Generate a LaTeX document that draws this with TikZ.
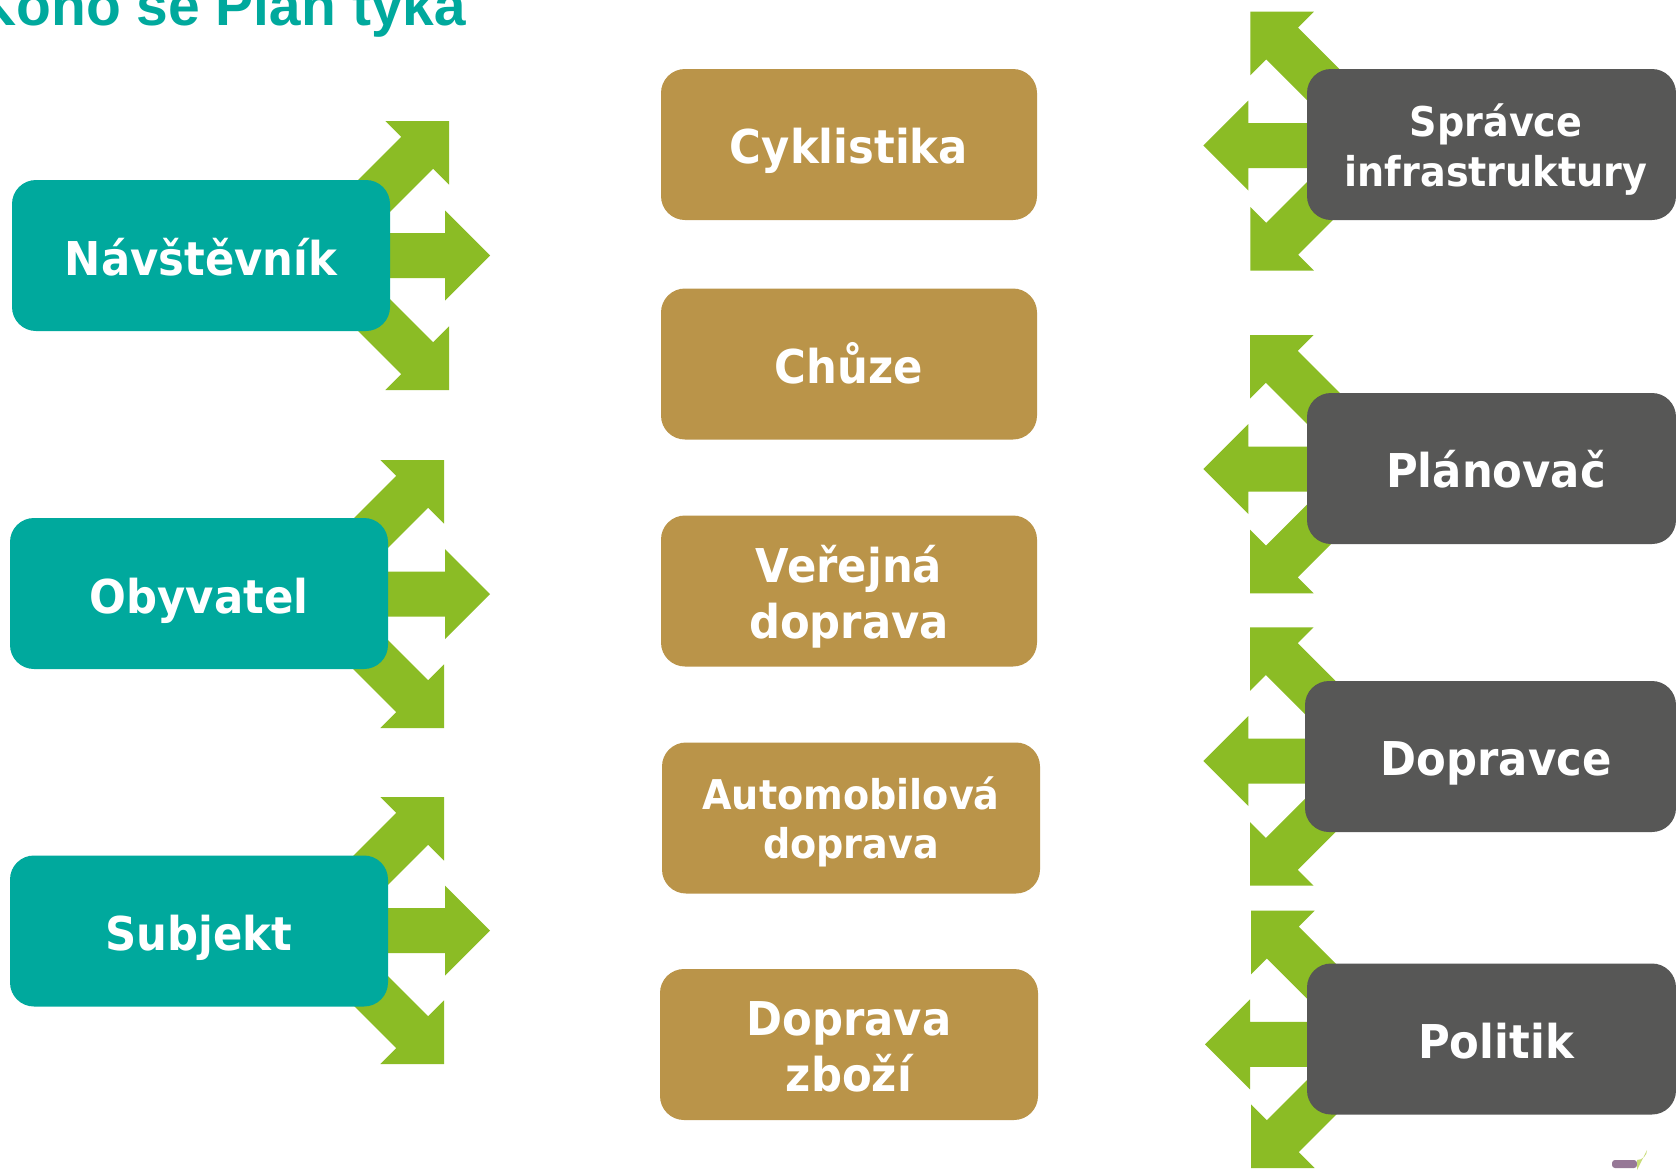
\documentclass[tikz,border=0pt]{standalone}
\usepackage{fontspec}
\newfontfamily\bxfont{DejaVu Sans}[FakeStretch=0.93]
\newfontfamily\ttlfont{Liberation Sans}
\definecolor{tealc}{RGB}{0,169,157}
\definecolor{goldc}{RGB}{186,148,73}
\definecolor{darkc}{RGB}{87,87,86}
\definecolor{arrowgreen}{RGB}{139,188,37}
\definecolor{logopurple}{RGB}{150,120,150}
\definecolor{logogreen}{RGB}{200,220,120}
\newcommand\twol[2]{\vtop{\halign{\hfil##\hfil\cr#1\cr#2\cr}}}
\newcommand\garrow[4]{\fill[arrowgreen, shift={(#1,#2)}, rotate=#3]
  (0,0) -- (-45,45) -- (-45,22.5) -- (-#4,22.5) -- (-#4,-22.5) -- (-45,-22.5) -- (-45,-45) -- cycle;}
\tikzset{
  boxbase/.style={rectangle, rounded corners=24pt, inner sep=0pt, outer sep=0pt,
    minimum width=377, minimum height=151},
  tealbox/.style={boxbase, fill=tealc},
  goldbox/.style={boxbase, fill=goldc},
  darkbox/.style={boxbase, fill=darkc, minimum width=369},
  lbl/.style={text=white, inner sep=0pt, outer sep=0pt, anchor=base,
    font=\bxfont\bfseries\fontsize{46.6}{56}\selectfont},
  lbls/.style={lbl, font=\bxfont\bfseries\fontsize{41}{49.5}\selectfont},
  ttl/.style={text=tealc, inner sep=0pt, anchor=base west,
    font=\ttlfont\bfseries\fontsize{57}{68}\selectfont}
}
\begin{document}
\begin{tikzpicture}[x=1pt, y=-1pt]
\useasboundingbox (0,0) rectangle (1676,1170);
\fill[white] (0,0) rectangle (1676,1170);

% title (cut off at top)
\node[ttl] (title) at (-25,25) {Koho se Plán týká};

% left arrow clusters
\garrow{449}{121}{45}{190}
\garrow{490}{255.5}{0}{190}
\garrow{449}{390}{-45}{190}

\garrow{444}{460}{45}{190}
\garrow{490}{594}{0}{190}
\garrow{444}{728}{-45}{190}

\garrow{444}{797}{45}{190}
\garrow{490}{930.5}{0}{190}
\garrow{444}{1064}{-45}{190}

% right arrow clusters
\garrow{1250.3}{11.7}{135}{190}
\garrow{1203.3}{145.5}{180}{190}
\garrow{1250.3}{270.7}{225}{190}

\garrow{1250}{335}{135}{190}
\garrow{1203.3}{469}{180}{190}
\garrow{1250}{593.3}{225}{190}

\garrow{1250}{627.3}{135}{190}
\garrow{1203.3}{761}{180}{190}
\garrow{1250}{885.7}{225}{190}

\garrow{1251}{910.7}{135}{190}
\garrow{1205}{1044.3}{180}{190}
\garrow{1251}{1168}{225}{190}

% teal boxes
\node[tealbox, minimum width=378] (b1) at (201,255.5) {};
\node[tealbox, minimum width=378] (b2) at (199,593.5) {};
\node[tealbox, minimum width=378] (b3) at (199,931) {};
% gold boxes
\node[goldbox, minimum width=376] (g1) at (849,144.5) {};
\node[goldbox, minimum width=376] (g2) at (849,364) {};
\node[goldbox, minimum width=376] (g3) at (849,591) {};
\node[goldbox, minimum width=378] (g4) at (851,818) {};
\node[goldbox, minimum width=378] (g5) at (849,1044.5) {};
% dark boxes
\node[darkbox] (d1) at (1491.5,144.5) {};
\node[darkbox] (d2) at (1491.5,468.5) {};
\node[darkbox, minimum width=371] (d3) at (1490.5,756.5) {};
\node[darkbox] (d4) at (1491.5,1039) {};

% labels
\node[lbl] (tb1) at (201,275) {Návštěvník};
\node[lbl] (tb2) at (199,613) {Obyvatel};
\node[lbl] (tb3) at (199,950) {Subjekt};

\node[lbl] (tg1) at (849,163.5) {Cyklistika};
\node[lbl] (tg2) at (849,383) {Chůze};
\node[lbl] (tg3) at (849,582) {\twol{Veřejná}{doprava}};
\node[lbls] (tg4) at (851,809) {\twol{Automobilová}{doprava}};
\node[lbl] (tg5) at (849,1035) {\twol{Doprava}{zboží}};

\node[lbls] (td1) at (1496,136.5) {\twol{Správce}{infrastruktury}};
\node[lbl] (td2) at (1496,487.5) {Plánovač};
\node[lbl] (td3) at (1496,775.5) {Dopravce};
\node[lbl] (td4) at (1496,1058) {Politik};

% cut-off logo fragment
\fill[logopurple, rounded corners=3pt] (1612,1160) rectangle (1637,1168);
\fill[logogreen] (1637,1160) arc[start angle=90, end angle=0, radius=10] -- (1637,1170) -- cycle;
\end{tikzpicture}
\end{document}
